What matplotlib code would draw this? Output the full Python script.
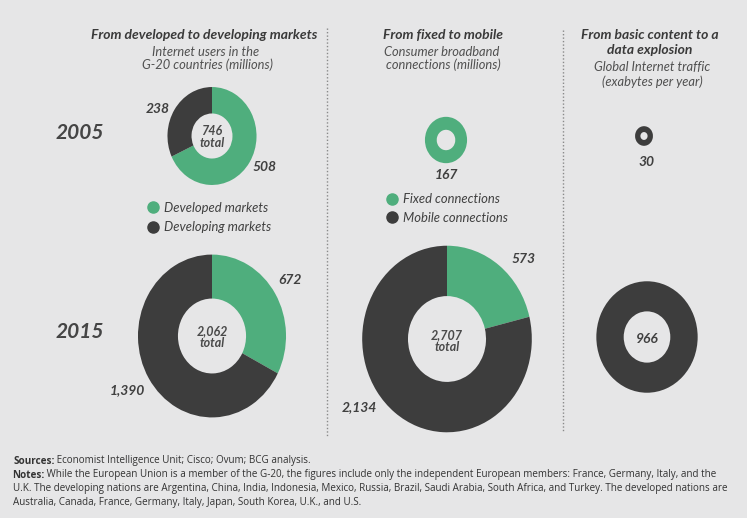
import numpy as np
import matplotlib.pyplot as plt
from matplotlib.lines import Line2D

plt.rcParams['font.family'] = ['Lato', 'DejaVu Sans']

W, H = 747, 518
BG = '#e6e6e7'
GREEN = '#4fae7d'
DARK = '#3d3d3d'
TXT = '#3b3b3b'
SUB = '#505050'

# data (millions / exabytes)
users_2005 = [508, 238]
users_2015 = [672, 1390]
users_labels = ['Developed markets', 'Developing markets']
conn_2005 = [167]
conn_2015 = [573, 2134]
conn_labels = ['Fixed connections', 'Mobile connections']
traffic_2005 = [30]
traffic_2015 = [966]
years = ['2005', '2015']

KX = 1.63      # px per sqrt(unit)
STRETCH = 1.1  # picture is a bit taller than wide

fig = plt.figure(figsize=(W / 100, H / 100), dpi=100, facecolor=BG)


def T(x, y, s, **kw):
    kw.setdefault('color', TXT)
    return fig.text(x / W, 1 - y / H, s, **kw)


def donut(vals, colors, cx, cy, hole=0.46):
    rx = KX * np.sqrt(sum(vals))
    ry = rx * STRETCH
    ax = fig.add_axes([(cx - rx) / W, 1 - (cy + ry) / H, 2 * rx / W, 2 * ry / H])
    ax.pie(vals, colors=colors, startangle=90, counterclock=False, radius=1,
           wedgeprops=dict(width=1 - hole, edgecolor='none'))
    ax.set_aspect('auto')
    ax.set_xlim(-1, 1)
    ax.set_ylim(-1, 1)
    ax.axis('off')
    return ax


# overlay for separators
ov = fig.add_axes([0, 0, 1, 1])
ov.set_xlim(0, W)
ov.set_ylim(H, 0)
ov.axis('off')
ov.plot([327, 327], [28, 437], ls=(0, (1, 1.5)), color='#8a8a8a', lw=1)
ov.plot([563, 563], [30, 432], ls=(0, (1, 1.5)), color='#8a8a8a', lw=1)

# headers
hd = dict(ha='center', va='center', fontsize=10, fontweight='bold', style='italic', color='#3a3a3a')
sb = dict(ha='center', va='center', fontsize=9.3, style='italic', color=SUB)
T(204, 35, 'From developed to developing markets', **hd)
T(206, 52, 'Internet users in the', **sb)
T(207, 65, 'G-20 countries (millions)', **sb)
T(443, 35, 'From fixed to mobile', **hd)
T(442, 52, 'Consumer broadband', **sb)
T(443, 65, 'connections (millions)', **sb)
T(650, 35, 'From basic content to a', **hd)
T(650, 50, 'data explosion', **hd)
T(652, 67, 'Global Internet traffic', **sb)
T(652, 82, '(exabytes per year)', **sb)

# years
T(80, 133, years[0], ha='center', va='center', fontsize=15, style='italic', fontweight='bold', color='#454545')
T(80, 332, years[1], ha='center', va='center', fontsize=15, style='italic', fontweight='bold', color='#454545')

# donuts
donut(users_2005, [GREEN, DARK], 212, 136)
donut(users_2015, [GREEN, DARK], 212, 336)
donut(conn_2005, [GREEN], 446, 140, hole=0.44)
donut(conn_2015, [GREEN, DARK], 447, 339)
donut(traffic_2005, [DARK], 644, 136, hole=0.4)
donut(traffic_2015, [DARK], 647, 337)

# value labels
vl = dict(ha='center', va='center', fontsize=10, fontweight='bold', style='italic', color='#404040')
T(158, 109, f'{users_2005[1]:,}', **vl)
T(265, 167, f'{users_2005[0]:,}', **vl)
T(290, 280, f'{users_2015[0]:,}', **vl)
T(127, 390, f'{users_2015[1]:,}', **vl)
T(446, 175, f'{conn_2005[0]:,}', **vl)
T(524, 259, f'{conn_2015[0]:,}', **vl)
T(359, 407, f'{conn_2015[1]:,}', **vl)
T(646, 162, f'{traffic_2005[0]:,}', **vl)
T(647, 339, f'{traffic_2015[0]:,}', **vl)

tl = dict(ha='center', va='center', fontsize=9, fontweight='bold', style='italic',
          color='#4a4a4a', linespacing=0.95)
T(212, 137, f'{sum(users_2005):,}\ntotal', **tl)
T(212, 337, f'{sum(users_2015):,}\ntotal', **tl)
T(447, 341, f'{sum(conn_2015):,}\ntotal', **tl)

# legends
lg = dict(frameon=False, loc='center left', borderaxespad=0, borderpad=0, handlelength=0.8,
          handletextpad=0.45, prop=dict(size=9.4, style='italic'))
h1 = [Line2D([], [], ls='none', marker='o', ms=8, color=c) for c in [GREEN, DARK]]
l1 = fig.legend(h1, users_labels, bbox_to_anchor=(148 / W, 1 - 217.5 / H), labelspacing=0.58, **lg)
l2 = fig.legend(h1, conn_labels, bbox_to_anchor=(387 / W, 1 - 208.5 / H), labelspacing=0.52, **lg)
for l in (l1, l2):
    for t in l.get_texts():
        t.set_color('#404040')

# footnotes
fn = dict(fontsize=7.1, color='#333333', va='center', family=['Open Sans', 'DejaVu Sans'])
src = T(13, 461, 'Sources:', fontweight='bold', **fn)
ov.annotate(' Economist Intelligence Unit; Cisco; Ovum; BCG analysis.', xy=(1, 0.5), xycoords=src,
            ha='left', **fn)
nts = T(12, 475, 'Notes:', fontweight='bold', **fn)
ov.annotate(' While the European Union is a member of the G-20, the figures include only '
            'the independent European members: France, Germany, Italy, and the',
            xy=(1, 0.5), xycoords=nts, ha='left', **fn)
T(13, 489, 'U.K. The developing nations are Argentina, China, India, Indonesia, Mexico, Russia, Brazil, '
           'Saudi Arabia, South Africa, and Turkey. The developed nations are', **fn)
T(13, 503, 'Australia, Canada, France, Germany, Italy, Japan, South Korea, U.K., and U.S.', **fn)

fig.savefig('out.png', dpi=100, facecolor=BG)
